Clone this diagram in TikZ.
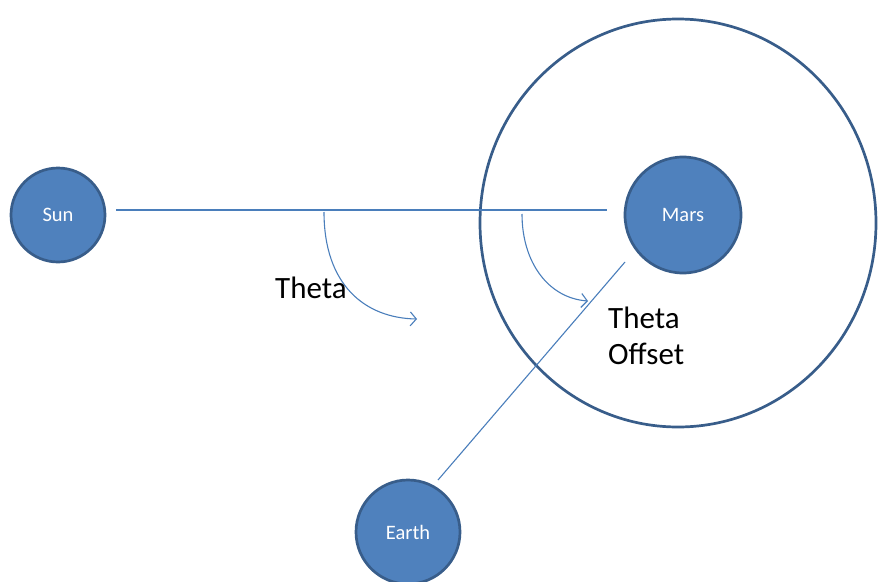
\documentclass[tikz,border=0pt]{standalone}
\usepackage{fontspec}
\setmainfont{Carlito}
\usetikzlibrary{arrows.meta}
\definecolor{planetfill}{HTML}{4F81BD}
\definecolor{planetdraw}{HTML}{385D8A}
\definecolor{linecol}{HTML}{4A7EBB}
\tikzset{
  planet/.style={circle, fill=planetfill, draw=planetdraw, line width=2.7pt, inner sep=0pt, text=white, font=\fontsize{20.5}{24}\selectfont},
  conn/.style={draw=linecol, line width=1.1pt},
  arc/.style={draw=linecol, line width=1.1pt, -{Straight Barb[length=6pt,width=14pt]}},
  lbl/.style={font=\fontsize{31}{36}\selectfont, align=left, inner sep=0pt}
}
\begin{document}
\begin{tikzpicture}[x=1pt,y=-1pt]
\useasboundingbox (0,0) rectangle (878,581);
\draw[draw=planetdraw, line width=2.7pt] (678,223) ellipse [x radius=198, y radius=204];
\node[planet, minimum size=94pt] (sun) at (58,215) {Sun};
\node[planet, minimum size=116pt] (mars) at (683,215) {Mars};
\node[planet, minimum size=104pt] (earth) at (408,532) {Earth};
\coordinate (a) at (116,210);
\coordinate (b) at (607,210);
\coordinate (c) at (438,480);
\coordinate (d) at (625,262);
\coordinate (t1) at (324,212);
\coordinate (t2) at (417,319);
\coordinate (o1) at (522,214);
\coordinate (o2) at (588,301);
\draw[conn] (a) -- (b);
\draw[conn] (c) -- (d);
\draw[arc] (t1) .. controls (324,285) and (365,318) .. (t2);
\draw[arc] (o1) .. controls (522,262) and (548,298) .. (o2);
\node[lbl, anchor=base west] (theta) at (275,298) {Theta};
\node[lbl, anchor=base west] (offset1) at (608,328) {Theta};
\node[lbl, anchor=base west] (offset2) at (608,364) {Offset};
\end{tikzpicture}
\end{document}
